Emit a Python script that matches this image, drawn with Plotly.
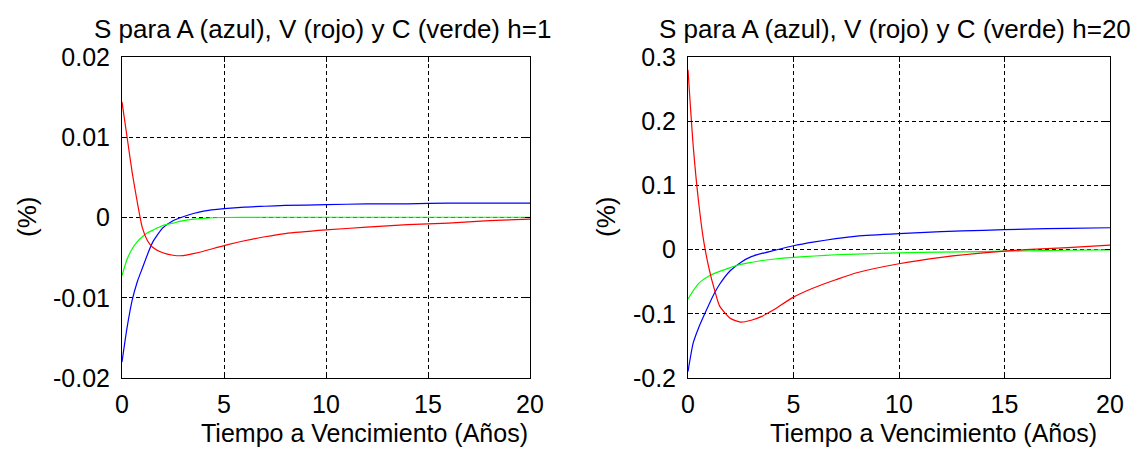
import plotly.graph_objects as go

W, H = 1136, 449

tau = [0, 0.25, 0.5, 0.75, 1, 1.25, 1.5, 2, 2.5, 3, 3.5, 4, 5, 6, 7, 8, 10, 12, 14, 16, 18, 20]

# h = 1
a_h1 = [-0.0180, -0.0137, -0.0103, -0.0080, -0.0063, -0.0046, -0.0031, -0.0013, -0.0004, 0.0001, 0.0005, 0.0008,
        0.0011, 0.0013, 0.0014, 0.0015, 0.0016, 0.0017, 0.0017, 0.0018, 0.0018, 0.0018]
v_h1 = [0.0144, 0.0100, 0.0056, 0.0019, -0.0013, -0.0029, -0.0037, -0.0044, -0.0047, -0.00475, -0.0045, -0.0042,
        -0.0035, -0.0029, -0.0024, -0.0020, -0.00155, -0.0012, -0.0009, -0.0007, -0.0004, -0.0002]
c_h1 = [-0.00725, -0.0052, -0.0039, -0.0030, -0.0024, -0.0019, -0.0016, -0.0010, -0.0007, -0.0004, -0.0002, -0.0001,
        0.0, 0.00002, 0.00003, 0.00003, 0.00003, 0.00003, 0.00003, 0.00003, 0.00003, 0.00003]

# h = 20
a_h20 = [-0.190, -0.145, -0.122, -0.103, -0.085, -0.068, -0.054, -0.033, -0.020, -0.011, -0.006, -0.002,
         0.006, 0.012, 0.017, 0.021, 0.025, 0.028, 0.030, 0.032, 0.033, 0.034]
v_h20 = [0.280, 0.160, 0.075, 0.012, -0.030, -0.062, -0.088, -0.107, -0.113, -0.110, -0.104, -0.095,
         -0.074, -0.059, -0.047, -0.036, -0.022, -0.012, -0.005, 0.000, 0.003, 0.007]
c_h20 = [-0.077, -0.064, -0.053, -0.046, -0.041, -0.037, -0.034, -0.028, -0.023, -0.020, -0.017, -0.015,
         -0.012, -0.010, -0.008, -0.007, -0.005, -0.004, -0.003, -0.002, -0.001, -0.0005]

x_ticks = [0, 5, 10, 15, 20]
y1_ticks = [-0.02, -0.01, 0, 0.01, 0.02]
y1_text = ["-0.02", "-0.01", "0", "0.01", "0.02"]
y2_ticks = [-0.2, -0.1, 0, 0.1, 0.2, 0.3]
y2_text = ["-0.2", "-0.1", "0", "0.1", "0.2", "0.3"]

titles = ["S para A (azul), V (rojo) y C (verde) h=1", "S para A (azul), V (rojo) y C (verde) h=20"]
xlabel = "Tiempo a Vencimiento (Años)"
ylabel = "(%)"

FONT = "Liberation Sans, Arial, sans-serif"
FS_TICK = 25
FS_LAB = 26

fig = go.Figure()

def add_series(xa, ya, a, v, c):
    for vals, col in ((a, "#0000FF"), (c, "#00FF00"), (v, "#FF0000")):
        fig.add_trace(go.Scatter(x=tau, y=vals, mode="lines", xaxis=xa, yaxis=ya,
                                 line=dict(color=col, width=1.2, shape="spline", smoothing=0.6),
                                 showlegend=False, hoverinfo="skip"))

add_series("x", "y", a_h1, v_h1, c_h1)
add_series("x2", "y2", a_h20, v_h20, c_h20)

px = lambda p: p / W
py = lambda p: 1 - p / H

plots = [(122, 530), (688, 1110)]
top, bottom = 57, 378

common_x = dict(range=[0, 20], tickvals=x_ticks, ticktext=[str(t) for t in x_ticks],
                showgrid=True, gridcolor="black", gridwidth=1, griddash="4px,3px",
                showline=True, linecolor="black", linewidth=1, mirror="ticks",
                ticks="inside", ticklen=5, tickcolor="black", zeroline=False,
                automargin=False, ticklabelstandoff=4,
                tickfont=dict(family=FONT, size=FS_TICK, color="black"))
common_y = dict(showgrid=True, gridcolor="black", gridwidth=1, griddash="4px,3px",
                showline=True, linecolor="black", linewidth=1, mirror="ticks",
                ticks="inside", ticklen=5, tickcolor="black", zeroline=False,
                automargin=False, ticklabelstandoff=6,
                tickfont=dict(family=FONT, size=FS_TICK, color="black"))

fig.update_layout(
    width=W, height=H,
    margin=dict(l=0, r=0, t=0, b=0, autoexpand=False),
    paper_bgcolor="white", plot_bgcolor="white",
    font=dict(family=FONT, size=FS_LAB, color="black"),
    xaxis=dict(domain=[px(plots[0][0]), px(plots[0][1])], anchor="y", **common_x),
    yaxis=dict(domain=[py(bottom), py(top)], anchor="x", range=[-0.02, 0.02],
               tickvals=y1_ticks, ticktext=y1_text, **common_y),
    xaxis2=dict(domain=[px(plots[1][0]), px(plots[1][1])], anchor="y2", **common_x),
    yaxis2=dict(domain=[py(bottom), py(top)], anchor="x2", range=[-0.2, 0.3],
                tickvals=y2_ticks, ticktext=y2_text, **common_y),
)

ann = []
for (l, r), t, ylx, xoff in zip(plots, titles, [27, 606], [38, 34]):
    cx = (l + r) / 2
    ann.append(dict(text=t, x=px(cx - 4), y=py(29), xref="paper", yref="paper",
                    xanchor="center", yanchor="middle", showarrow=False,
                    font=dict(family=FONT, size=FS_LAB, color="black")))
    ann.append(dict(text=xlabel, x=px(cx + xoff), y=0, xref="paper", yref="paper",
                    xanchor="center", yanchor="bottom", showarrow=False,
                    font=dict(family=FONT, size=FS_LAB - 1, color="black")))
    ann.append(dict(text=ylabel, x=px(ylx), y=py(217), xref="paper", yref="paper",
                    xanchor="center", yanchor="middle", showarrow=False, textangle=-90,
                    font=dict(family=FONT, size=FS_LAB, color="black")))
fig.update_layout(annotations=ann)

fig.write_html("out.html", config={"displayModeBar": False},
               post_script="document.body.style.margin='0';document.body.style.padding='0';"
                           "document.body.style.overflow='hidden';")
